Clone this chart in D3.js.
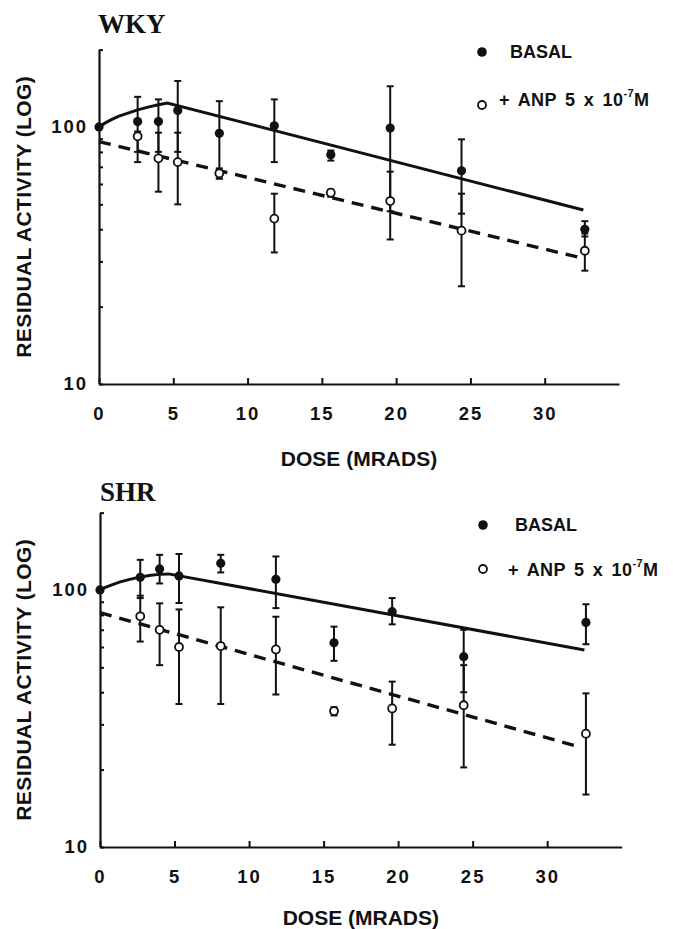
<!DOCTYPE html>
<html><head><meta charset="utf-8">
<script src="https://cdn.jsdelivr.net/npm/d3@7"></script>
<style>
body{margin:0;background:#fff;}
text{font-family:"Liberation Sans",Arial,sans-serif;font-weight:bold;fill:#111;}
</style></head>
<body><svg id="c" width="673" height="929"></svg>
<script>
// ---------- data ----------
const panelNames = ["WKY", "SHR"];
const xTicks = [0, 5, 10, 15, 20, 25, 30];
const yTicks = [10, 20, 30, 40, 50, 60, 70, 80, 90, 100, 200];
const yLabels = [10, 100];
const legendLabels = ["BASAL", "+ ANP 5 x 10"];

// WKY
const wkyDose    = [0, 2.6, 4.0, 5.3, 8.1, 11.8, 15.6, 19.6, 24.4, 32.7];
const wkyBasal   = [100, 105, 105, 116, 94.5, 101, 78, 99, 67.5, 40];
const wkyBasalHi = [null, 131, 128, 151, 126, 128, 81, 144, 89.5, 43];
const wkyBasalLo = [null, 80, 80, 80, 63, 73, 74, 47, 46, 37.5];
const wkyAnp     = [null, 92, 75.5, 73, 66, 44, 55.5, 51.5, 39.5, 33];
const wkyAnpHi   = [null, 96, 95, 95, 69, 55, 57, 67, 55, 38.5];
const wkyAnpLo   = [null, 73, 56, 50, 63, 32.5, 53.5, 36.5, 24, 27.6];
const wkyFitX    = [0, 0.4, 0.8, 1.3, 2, 2.6, 3.3, 4, 4.6, 32.6];
const wkyFitY    = [100, 103.5, 106.5, 110, 113.5, 116.5, 119.5, 122, 124, 47.5];
const wkyAnpFitX = [0, 32.6];
const wkyAnpFitY = [87.7, 30.8];

// SHR
const shrDose    = [0, 2.7, 4.0, 5.3, 8.1, 11.8, 15.7, 19.6, 24.4, 32.6];
const shrBasal   = [100, 112, 120.7, 113.4, 127, 110, 62.3, 82.3, 55, 74.8];
const shrBasalHi = [null, 131, 137, 138, 137, 135, 72, 93, 70, 88];
const shrBasalLo = [null, 93, 106, 89, 117, 85, 53, 73.5, 40, 61.5];
const shrAnp     = [null, 79, 70, 60, 60.5, 58.7, 33.8, 34.6, 35.6, 27.6];
const shrAnpHi   = [null, 95, 88.7, 84, 85.6, 78.7, 35, 44, 51, 39.6];
const shrAnpLo   = [null, 63, 51, 36, 36, 39.2, 32.5, 25, 20.4, 16];
const shrFitX    = [0, 0.4, 0.8, 1.3, 2, 2.7, 3.4, 4, 4.6, 32.5];
const shrFitY    = [100, 102.5, 104.7, 107.3, 110, 112.3, 114, 115, 115.5, 58.4];
const shrAnpFitX = [0, 32.3];
const shrAnpFitY = [81.6, 24.4];

// ---------- layout ----------
const panels = [
  {name: panelNames[0], dose: wkyDose, basal: wkyBasal, bHi: wkyBasalHi, bLo: wkyBasalLo,
   anp: wkyAnp, aHi: wkyAnpHi, aLo: wkyAnpLo, fx: wkyFitX, fy: wkyFitY, ax: wkyAnpFitX, ay: wkyAnpFitY,
   left: 99, right: 619, top: 49.6, bottom: 384, titleY: 33, titleX: 98, xTitleOff: 74,
   leg: {cx: 482, y1: 52, t1: 510, y2: 105, t2: 499, ty2: 100}},
  {name: panelNames[1], dose: shrDose, basal: shrBasal, bHi: shrBasalHi, bLo: shrBasalLo,
   anp: shrAnp, aHi: shrAnpHi, aLo: shrAnpLo, fx: shrFitX, fy: shrFitY, ax: shrAnpFitX, ay: shrAnpFitY,
   left: 100, right: 621.7, top: 512.6, bottom: 847, titleY: 501, titleX: 100, xTitleOff: 70,
   leg: {cx: 483, y1: 525, t1: 515, y2: 569, t2: 508, ty2: 570}}
];

const svg = d3.select("#c");

panels.forEach(p => {
  const g = svg.append("g");
  const x = d3.scaleLinear().domain([0, 35]).range([p.left, p.right]);
  const y = d3.scaleLog().domain([10, 200]).range([p.bottom, p.top]);

  // title
  g.append("text").attr("x", p.titleX).attr("y", p.titleY)
    .style("font-family", "'Liberation Serif','Times New Roman',serif")
    .style("font-size", "27px").text(p.name);

  // x axis
  const xa = g.append("g").attr("transform", `translate(0,${p.bottom})`)
    .call(d3.axisBottom(x).tickValues(xTicks).tickSizeInner(-6).tickSizeOuter(0).tickPadding(23).tickFormat(d3.format("d")));
  xa.select(".domain").attr("stroke", "#111").attr("stroke-width", 2.2);
  xa.selectAll(".tick line").attr("stroke", "#111").attr("stroke-width", 2);
  xa.selectAll(".tick text").style("font-size", "18.5px").style("letter-spacing", "2px")
    .style("font-family", "'Liberation Sans',Arial,sans-serif").attr("fill", "#111");

  // y axis
  const ya = g.append("g").attr("transform", `translate(${p.left},0)`)
    .call(d3.axisLeft(y).tickValues(yTicks).tickSizeInner(-4).tickSizeOuter(0).tickPadding(11)
      .tickFormat(d => yLabels.includes(d) ? String(d) : ""));
  ya.select(".domain").attr("stroke", "#111").attr("stroke-width", 2.2);
  ya.selectAll(".tick line").attr("stroke", "#111").attr("stroke-width", 2);
  ya.selectAll(".tick text").style("font-size", "18.5px").style("letter-spacing", "2px")
    .style("font-family", "'Liberation Sans',Arial,sans-serif").attr("fill", "#111");

  // axis titles
  g.append("text").attr("x", (p.left + p.right) / 2).attr("y", p.bottom + p.xTitleOff)
    .attr("text-anchor", "middle").attr("dominant-baseline", "central")
    .style("font-size", "21px").text("DOSE (MRADS)");
  g.append("text").attr("transform", `translate(23,${(p.top + p.bottom) / 2}) rotate(-90)`)
    .attr("text-anchor", "middle").attr("dominant-baseline", "central")
    .style("font-size", "21px").style("letter-spacing", "0.4px").text("RESIDUAL ACTIVITY (LOG)");

  // fit lines
  const line = d3.line().x(d => x(d[0])).y(d => y(d[1]));
  g.append("path").datum(p.fx.map((v, i) => [v, p.fy[i]]))
    .attr("d", line).attr("fill", "none").attr("stroke", "#111").attr("stroke-width", 3);
  g.append("path").datum(p.ax.map((v, i) => [v, p.ay[i]]))
    .attr("d", line).attr("fill", "none").attr("stroke", "#111").attr("stroke-width", 3.4)
    .attr("stroke-dasharray", "12,8");

  // error bars
  const bars = [];
  p.dose.forEach((d, i) => {
    if (p.bHi[i] != null) bars.push({x: d, hi: p.bHi[i], lo: p.bLo[i]});
    if (p.aHi[i] != null) bars.push({x: d, hi: p.aHi[i], lo: p.aLo[i]});
  });
  const eb = g.append("g").attr("stroke", "#111").attr("stroke-width", 2);
  bars.forEach(b => {
    eb.append("line").attr("x1", x(b.x)).attr("x2", x(b.x)).attr("y1", y(b.hi)).attr("y2", y(b.lo));
    [b.hi, b.lo].forEach(v => eb.append("line").attr("x1", x(b.x) - 3.5).attr("x2", x(b.x) + 3.5)
      .attr("y1", y(v)).attr("y2", y(v)));
  });

  // points
  p.dose.forEach((d, i) => {
    if (p.anp[i] != null) g.append("circle").attr("cx", x(d)).attr("cy", y(p.anp[i])).attr("r", 4)
      .attr("fill", "#fff").attr("stroke", "#111").attr("stroke-width", 1.8);
  });
  p.dose.forEach((d, i) => {
    g.append("circle").attr("cx", x(d)).attr("cy", y(p.basal[i])).attr("r", 4.6).attr("fill", "#111");
  });

  // legend
  const L = p.leg;
  g.append("circle").attr("cx", L.cx).attr("cy", L.y1).attr("r", 4.8).attr("fill", "#111");
  g.append("text").attr("x", L.t1).attr("y", L.y1).attr("dominant-baseline", "central")
    .style("font-size", "18px").text(legendLabels[0]);
  g.append("circle").attr("cx", L.cx).attr("cy", L.y2).attr("r", 4).attr("fill", "#fff")
    .attr("stroke", "#111").attr("stroke-width", 1.8);
  const t2 = g.append("text").attr("x", L.t2).attr("y", L.ty2).attr("dominant-baseline", "central")
    .style("font-size", "18px").style("word-spacing", "3px").style("letter-spacing", "0.4px");
  t2.append("tspan").text(legendLabels[1]);
  t2.append("tspan").attr("dy", -7).style("font-size", "11px").text("-7");
  t2.append("tspan").attr("dy", 7).text("M");
});
</script></body></html>
